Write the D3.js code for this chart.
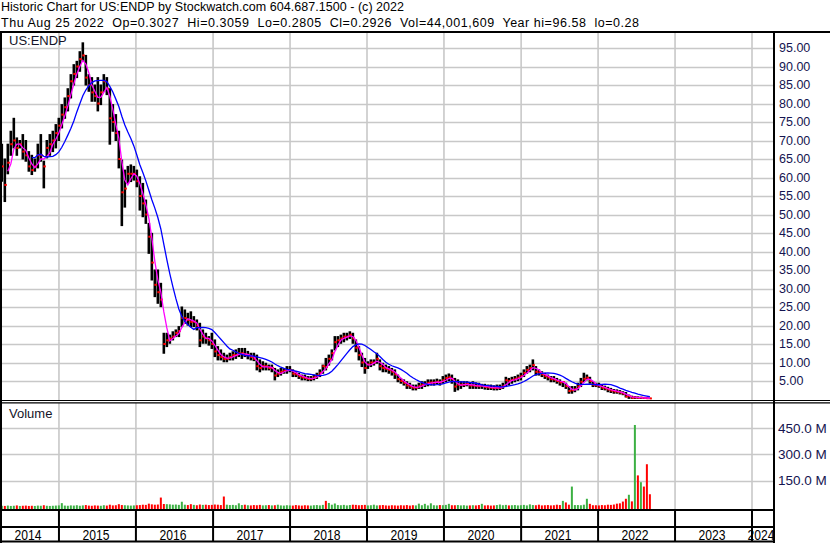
<!DOCTYPE html>
<html>
<head>
<meta charset="utf-8">
<script src="https://cdn.jsdelivr.net/npm/d3@7"></script>
<style>
body { margin: 0; background: #fff; }
svg { display: block; font-family: "Liberation Sans", Arial, sans-serif; }
</style>
</head>
<body>
<svg id="my_chart" width="830" height="543"></svg>
<script>
// header text
const titleLine1 = "Historic Chart for US:ENDP by Stockwatch.com 604.687.1500 - (c) 2022";
const titleLine2 = "Thu Aug 25 2022  Op=0.3027  Hi=0.3059  Lo=0.2805  Cl=0.2926  Vol=44,001,609  Year hi=96.58  lo=0.28";
const symbol = "US:ENDP";

// two-week bars, first one in early April 2014
const firstBar = new Date(2014, 3, 5);
const barDays = 14.23;

const highs = [
  69, 65, 69, 72.5, 76, 70.7, 70, 71.6, 70, 67,
  66, 65, 69, 71.6, 64.4, 70, 71.6, 72.5, 74.3, 76,
  79.7, 81.5, 84, 87.8, 90.5, 91.4, 94, 96.4, 93, 87.8,
  87, 85, 87, 85, 87.8, 87, 84, 79.7, 77, 72.5,
  64.7, 62, 63, 63.4, 63, 62, 60.2, 58.4, 53.9, 47.6,
  44.9, 35, 35, 31.4, 17.9, 17.9, 17.4, 18.3, 18.8, 19.7,
  25, 24.2, 23.3, 23.7, 22.4, 21.5, 20.6, 18.8, 17.9, 17,
  17.9, 16.1, 14.3, 13.4, 12.5, 12, 12.5, 12.9, 13.4, 13.8,
  13.8, 13.8, 13, 12.5, 12.5, 12, 10.7, 10.2, 9.8, 9.3,
  9.3, 8.4, 8, 8.4, 8.4, 8.9, 8.9, 8, 7.5, 7.1,
  6.6, 6.6, 6.2, 6.2, 6.6, 7.1, 8, 9.3, 11.1, 12,
  13.4, 17, 17, 17.4, 17.9, 17.9, 18.3, 17.9, 16.1, 14.3,
  12.5, 11.1, 10.2, 10.7, 10.7, 12.5, 10.7, 9.8, 9.3, 8.9,
  8.4, 8, 6.6, 5.7, 5.3, 4.8, 4.4, 3.9, 3.9, 4.4,
  4.8, 4.8, 5.3, 5.3, 5.3, 5.5, 5.3, 6.2, 6.6, 6.9,
  6.6, 5.7, 5.3, 4.8, 4.8, 4.8, 4.5, 4.8, 4.5, 4.4,
  4.1, 4.1, 3.9, 3.9, 3.7, 3.9, 3.9, 4.4, 6, 5.7,
  6, 6.2, 6.6, 7.1, 8, 8.9, 9.3, 10.7, 8.9, 8,
  7.5, 7.1, 6.6, 6.2, 6.2, 5.7, 5.3, 4.8, 4.4, 3.5,
  3.5, 3.5, 4.4, 5.7, 7.1, 6.6, 6, 4.8, 4.4, 4.4,
  3.9, 3.6, 3.3, 3, 2.7, 2.6, 2.4, 2.1, 1.9, 1.2,
  0.9, 0.8, 0.7, 0.6, 0.5, 0.5, 0.31
];
const lows = [
  59, 53.5, 61, 66, 68, 66, 68, 65, 64.4, 61.7,
  60.8, 61.7, 62.6, 64.4, 57.2, 65.3, 66, 67, 68, 70,
  73.4, 76, 78, 81.5, 85, 87, 88.7, 91.4, 85, 83.3,
  80.6, 80.6, 78, 79.7, 83.3, 82.4, 69, 72.5, 70, 62.6,
  47, 52, 58.4, 58.9, 59.3, 57.5, 51.2, 49.4, 47.6, 39.5,
  32.3, 27.8, 26, 25.1, 12.5, 14.3, 15.2, 16.1, 17, 17,
  19.7, 20.6, 20.1, 19.7, 19.7, 18.8, 14.3, 15.2, 15.2, 14.7,
  13.8, 11.6, 10.7, 10.7, 10.2, 10.2, 10.7, 10.7, 11.1, 11.6,
  11.1, 11.6, 11, 10.7, 10.5, 8, 7.5, 8, 8, 8,
  7.5, 5.3, 6.2, 6.6, 7.1, 7.1, 7.5, 6.2, 6.2, 5.7,
  5.3, 5.3, 5.1, 5.1, 5.3, 5.7, 6.2, 7.1, 8, 9.3,
  10.7, 13.4, 14.3, 15.2, 15.6, 16.1, 16.5, 15.2, 12.9, 10.7,
  8.9, 7.1, 8.4, 8.9, 9.3, 9.8, 8, 7.5, 7.5, 7.1,
  6.6, 5.7, 4.8, 4.4, 3.9, 3, 3, 2.6, 2.6, 3,
  3, 3.5, 3.7, 3.9, 3.9, 4.2, 3.9, 4.4, 4.8, 5.1,
  4.4, 2.2, 2.6, 3, 3.5, 3.7, 3, 3, 3, 3,
  3, 2.8, 2.7, 2.7, 2.6, 2.6, 2.7, 3, 3.5, 3.9,
  4.4, 4.8, 5.1, 5.3, 6.2, 7.1, 7.5, 8, 6.6, 6.6,
  6.2, 5.7, 5.3, 4.8, 4.8, 4.4, 3.9, 3.5, 3, 1.7,
  1.7, 2.1, 2.6, 3.5, 4.8, 5.3, 4.4, 3.5, 3.5, 3.3,
  2.7, 2.6, 2.1, 1.9, 1.7, 1.7, 1.5, 1.3, 0.7, 0.3,
  0.3, 0.3, 0.3, 0.3, 0.3, 0.28, 0.28
];
const closes = [
  63, 58, 64, 69, 70, 68, 69, 67, 66, 63,
  62, 63, 66, 66, 63, 68, 69, 70, 72, 74,
  77, 79, 82, 86, 88, 90, 92, 93, 87, 85,
  83, 82, 80, 83, 86, 84, 76, 75, 72, 65,
  56, 57, 61, 61, 61, 59, 55, 53, 50, 44,
  37, 31, 29, 27, 15, 16, 16.5, 17, 18, 18.5,
  22, 22, 21.5, 21, 21, 20, 16, 17, 16.5, 16,
  15, 13, 12, 11.5, 11, 11, 11.5, 12, 12, 12.5,
  12.5, 12, 12, 11.5, 11, 9, 8.5, 9, 9, 8.5,
  8.5, 6.5, 7, 7.5, 7.8, 8, 8, 7, 6.8, 6.3,
  6, 5.8, 5.6, 5.6, 6, 6.5, 7.2, 9, 8.8, 11,
  12.5, 15.5, 16, 16.5, 17, 17, 17.5, 16.5, 14, 12,
  10, 8.5, 9.5, 10, 10, 11, 9, 8.5, 8.3, 8,
  7.5, 6.8, 5.5, 5, 4.5, 3.8, 3.5, 3.2, 3.2, 3.6,
  4, 4.2, 4.5, 4.6, 4.6, 4.8, 4.6, 5.2, 5.8, 6,
  5.5, 3.5, 4, 4, 4, 4.2, 3.8, 3.8, 3.7, 3.6,
  3.7, 3.4, 3.3, 3.2, 3.1, 3.1, 3.2, 3.6, 5.2, 5,
  5.3, 5.6, 5.9, 6.3, 7.2, 8, 8.5, 9.3, 7.5, 7.3,
  6.8, 6.3, 6, 5.5, 5.4, 5, 4.6, 4.7, 3.6, 2.3,
  2.5, 2.8, 3.5, 4.8, 5.6, 5.9, 5, 4, 3.8, 3.7,
  3.2, 3, 2.7, 2.4, 2.2, 2.1, 1.9, 1.6, 0.8, 0.9,
  0.45, 0.55, 0.45, 0.5, 0.4, 0.33, 0.29
];
// volume in millions of shares
const volumes = [
  6, 5, 7, 5, 6, 8, 5, 6, 7, 5,
  6, 5, 7, 6, 9, 6, 5, 6, 7, 8,
  21, 7, 6, 8, 7, 9, 6, 8, 10, 7,
  6, 8, 7, 6, 9, 7, 12, 8, 9, 15,
  10, 9, 8, 7, 8, 9, 10, 12, 11, 18,
  14, 12, 13, 53, 16, 15, 14, 12, 13, 11,
  29, 12, 10, 15, 11, 9, 13, 11, 12, 10,
  11, 13, 12, 10, 59, 12, 10, 11, 9, 20,
  10, 12, 9, 8, 10, 9, 11, 8, 9, 10,
  8, 9, 12, 8, 7, 9, 8, 7, 10, 8,
  7, 9, 8, 7, 9, 10, 8, 11, 34, 22,
  12, 19, 10, 9, 11, 8, 10, 12, 11, 9,
  10, 11, 8, 9, 12, 8, 9, 10, 8, 7,
  9, 8, 7, 9, 8, 10, 7, 9, 8, 18,
  9, 17, 8, 20, 9, 8, 10, 9, 11, 17,
  9, 9, 10, 8, 9, 7, 8, 9, 8, 10,
  17, 8, 9, 7, 8, 10, 13, 9, 11, 8,
  9, 10, 8, 9, 11, 8, 14, 10, 9, 12,
  8, 9, 10, 8, 9, 12, 10, 34, 25, 12,
  116, 10, 10, 9, 12, 46, 17, 9, 9, 8,
  10, 9, 12, 11, 13, 18, 20, 30, 46, 69,
  31, 469, 180, 141, 116, 244, 72
];

const priceTicks = [5, 10, 15, 20, 25, 30, 35, 40, 45, 50, 55, 60, 65, 70, 75, 80, 85, 90, 95];
const volumeTicks = [150, 300, 450];
const years = [2014, 2015, 2016, 2017, 2018, 2019, 2020, 2021, 2022, 2023, 2024];

// moving average periods, in bars
const shortAvg = 3;
const longAvg = 11;

var svg = d3.select("svg#my_chart"),
    width = +svg.attr("width"),
    height = +svg.attr("height");

const left = 2, right = 773;
const priceTop = 33, priceBottom = 400;
const volTop = 403, volBottom = 509;

var x = d3.scaleTime()
    .domain([new Date(2014, 0, 1), new Date(2024, 0, 1)])
    .range([-18, 752]);
var y = d3.scaleLinear().domain([0, 95]).range([399.5, 48]);
var yVol = d3.scaleLinear().domain([0, 450]).range([506.8, 428.3]);

const bars = highs.map((h, i) => ({
    date: new Date(firstBar.getTime() + i * barDays * 864e5),
    high: h,
    low: lows[i],
    close: closes[i],
    volume: volumes[i],
    up: i === 0 ? true : closes[i] >= closes[i - 1]
}));

const sma = (vals, n) => vals.map((v, i) => i < n - 1 ? null : d3.mean(vals.slice(i - n + 1, i + 1)));
const maShort = sma(closes, shortAvg);
const maLong = sma(closes, longAvg);

svg.append("rect").attr("width", width).attr("height", height).attr("fill", "#fff");

const defs = svg.append("defs");
defs.append("clipPath").attr("id", "clipPrice")
    .append("rect").attr("x", left).attr("y", priceTop).attr("width", right - left).attr("height", priceBottom - priceTop);
defs.append("clipPath").attr("id", "clipVol")
    .append("rect").attr("x", left).attr("y", volTop).attr("width", right - left).attr("height", volBottom - volTop);

const yearStarts = years.map(yr => x(new Date(yr, 0, 1)));
const gridColor = "#c8c8c8";

// grid
const grid = svg.append("g");
grid.selectAll("line.hp").data(priceTicks).enter().append("line")
    .attr("x1", left).attr("x2", right)
    .attr("y1", d => Math.round(y(d)) + 0.5).attr("y2", d => Math.round(y(d)) + 0.5)
    .attr("stroke", gridColor).attr("stroke-width", 1.3);
grid.selectAll("line.hv").data(volumeTicks).enter().append("line")
    .attr("x1", left).attr("x2", right)
    .attr("y1", d => Math.round(yVol(d)) + 0.5).attr("y2", d => Math.round(yVol(d)) + 0.5)
    .attr("stroke", gridColor).attr("stroke-width", 1.3);
const vGrid = yearStarts.filter(v => v > left && v < right);
grid.selectAll("line.vp").data(vGrid).enter().append("line")
    .attr("x1", d => d).attr("x2", d => d)
    .attr("y1", priceTop).attr("y2", priceBottom)
    .attr("stroke", gridColor).attr("stroke-width", 1.6);
grid.selectAll("line.vv").data(vGrid).enter().append("line")
    .attr("x1", d => d).attr("x2", d => d)
    .attr("y1", volTop).attr("y2", volBottom)
    .attr("stroke", gridColor).attr("stroke-width", 1.6);

// volume
svg.append("g").attr("clip-path", "url(#clipVol)")
    .selectAll("rect").data(bars).enter().append("rect")
    .attr("x", d => x(d.date) - 1)
    .attr("width", 2)
    .attr("y", d => yVol(d.volume))
    .attr("height", d => volBottom - yVol(d.volume))
    .attr("fill", d => d.up ? "#3cb043" : "#ff0000");

// price bars
const price = svg.append("g").attr("clip-path", "url(#clipPrice)");
price.selectAll("line.bar").data(bars).enter().append("line")
    .attr("x1", d => x(d.date)).attr("x2", d => x(d.date))
    .attr("y1", d => y(d.high) - 0.5).attr("y2", d => y(d.low) + 0.5)
    .attr("stroke", "#000").attr("stroke-width", 2.6);
price.selectAll("rect.cl").data(bars).enter().append("rect")
    .attr("x", d => x(d.date) - 0.5)
    .attr("y", d => y(d.close) - 1)
    .attr("width", 2.5).attr("height", 2)
    .attr("fill", "#ff0000");

const maLine = (vals) => d3.line()
    .defined((d, i) => vals[i] !== null)
    .x(d => x(d.date))
    .y((d, i) => y(vals[i]));

price.append("path").datum(bars)
    .attr("d", maLine(maShort))
    .attr("fill", "none").attr("stroke", "#ff00ff").attr("stroke-width", 1.3);
price.append("path").datum(bars)
    .attr("d", maLine(maLong))
    .attr("fill", "none").attr("stroke", "#0000ff").attr("stroke-width", 1.3);

// frame
const frame = svg.append("g").attr("stroke", "#000");
frame.append("line").attr("x1", 0).attr("x2", width).attr("y1", 32).attr("y2", 32).attr("stroke-width", 2);
frame.append("line").attr("x1", 1).attr("x2", 1).attr("y1", 31).attr("y2", height).attr("stroke-width", 2);
frame.append("line").attr("x1", 774).attr("x2", 774).attr("y1", 31).attr("y2", height).attr("stroke-width", 2);
frame.append("line").attr("x1", 0).attr("x2", width).attr("y1", 400.5).attr("y2", 400.5).attr("stroke-width", 1.2);
frame.append("line").attr("x1", 0).attr("x2", width).attr("y1", 402.8).attr("y2", 402.8).attr("stroke-width", 1.2);
[510, 527, 541.5].forEach(v => {
    frame.append("line").attr("x1", 0).attr("x2", 774).attr("y1", v).attr("y2", v).attr("stroke-width", 2);
});
frame.selectAll("line.div").data(vGrid).enter().append("line")
    .attr("x1", d => d).attr("x2", d => d)
    .attr("y1", 510).attr("y2", 541.5)
    .attr("stroke-width", 2);

// header
svg.append("text").attr("x", 1).attr("y", 10.5)
    .attr("font-size", 12.5).attr("textLength", 403).attr("lengthAdjust", "spacing")
    .style("white-space", "pre").text(titleLine1);
svg.append("text").attr("x", 1).attr("y", 26.5)
    .attr("font-size", 12.5).attr("textLength", 638).attr("lengthAdjust", "spacing")
    .style("white-space", "pre").text(titleLine2);

svg.append("text").attr("x", 9).attr("y", 45).attr("font-size", 13).attr("fill", "#141428").text(symbol);
svg.append("text").attr("x", 9).attr("y", 417.5).attr("font-size", 13).attr("fill", "#141428").text("Volume");

// right axis labels
svg.append("g").selectAll("text").data(priceTicks).enter().append("text")
    .attr("x", 779).attr("y", d => y(d) + 4.4)
    .attr("font-size", 12.5).attr("fill", "#141450")
    .text(d => d3.format(".2f")(d));
svg.append("g").selectAll("text").data(volumeTicks).enter().append("text")
    .attr("x", 778).attr("y", d => yVol(d) + 4.8)
    .attr("font-size", 13.5).attr("fill", "#141450")
    .text(d => d3.format(".1f")(d) + " M");

// year labels
svg.append("g").selectAll("text").data(years).enter().append("text")
    .attr("x", (d, i) => {
        const a = Math.max(0, yearStarts[i]);
        const b = Math.min(right, i + 1 < years.length ? yearStarts[i + 1] : right);
        return (a + b) / 2 - 1.5;
    })
    .attr("y", 539.7)
    .attr("text-anchor", "middle")
    .attr("font-size", 15).attr("textLength", 27).attr("lengthAdjust", "spacingAndGlyphs")
    .attr("fill", "#000")
    .text(d => d);
</script>
</body>
</html>
